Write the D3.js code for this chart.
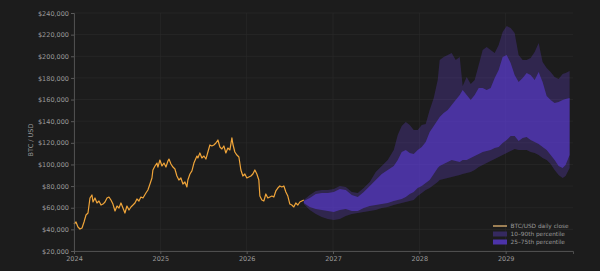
<!DOCTYPE html>
<html><head><meta charset="utf-8">
<script src="https://cdn.jsdelivr.net/npm/d3@7"></script>
<style>html,body{margin:0;padding:0;background:#1c1c1c;}svg{display:block;}</style>
</head><body>
<svg id="c" width="600" height="271"></svg>
<script>
// Historical BTC/USD daily close (decimal year, thousand USD)
const histYears = [2024.000,2024.023,2024.046,2024.069,2024.093,2024.116,2024.139,2024.162,2024.185,2024.208,2024.220,2024.243,2024.266,2024.289,2024.313,2024.336,2024.359,2024.382,2024.405,2024.428,2024.451,2024.475,2024.498,2024.521,2024.544,2024.567,2024.590,2024.613,2024.637,2024.660,2024.683,2024.706,2024.729,2024.752,2024.775,2024.799,2024.833,2024.856,2024.880,2024.903,2024.914,2024.938,2024.961,2024.972,2024.995,2025.019,2025.042,2025.065,2025.088,2025.100,2025.123,2025.146,2025.169,2025.192,2025.215,2025.238,2025.262,2025.285,2025.308,2025.319,2025.343,2025.366,2025.389,2025.424,2025.435,2025.458,2025.481,2025.505,2025.528,2025.551,2025.574,2025.597,2025.620,2025.644,2025.667,2025.690,2025.713,2025.736,2025.759,2025.782,2025.806,2025.829,2025.840,2025.863,2025.887,2025.910,2025.933,2025.956,2025.979,2026.002,2026.025,2026.049,2026.072,2026.095,2026.118,2026.141,2026.153,2026.176,2026.199,2026.222,2026.245,2026.269,2026.292,2026.315,2026.338,2026.361,2026.384,2026.407,2026.431,2026.454,2026.477,2026.500,2026.523,2026.546,2026.569,2026.593,2026.616,2026.639,2026.662];
const histClose = [45.0,46.8,42.2,40.3,41.3,46.8,53.3,55.1,69.0,71.8,65.3,69.0,64.4,66.2,62.5,63.4,65.3,69.0,69.9,67.1,63.4,57.0,61.6,59.7,64.4,59.7,55.1,61.6,57.9,60.7,62.5,64.4,68.1,66.2,69.9,69.0,73.6,76.4,81.9,87.5,94.9,98.6,101.3,97.6,104.1,98.6,101.3,97.6,103.2,105.0,100.4,97.6,95.8,89.3,85.6,87.5,81.9,83.8,79.2,85.6,91.2,94.0,101.3,107.8,106.0,110.6,106.0,107.8,105.0,111.5,118.0,117.1,118.0,119.8,122.6,116.1,114.3,117.1,110.6,115.2,113.4,124.5,118.9,111.5,108.7,106.9,94.9,89.3,91.2,87.5,88.4,89.3,91.2,94.9,91.2,85.6,70.8,67.1,66.2,72.7,69.0,69.9,70.8,69.9,75.5,78.2,80.1,79.2,80.1,74.5,70.8,63.4,62.5,60.7,64.4,62.5,65.3,66.2,67.1];

// Forecast percentiles (decimal year, thousand USD)
const fcYears = [2026.662,2026.731,2026.801,2026.870,2026.940,2027.009,2027.079,2027.148,2027.218,2027.287,2027.356,2027.426,2027.495,2027.565,2027.634,2027.704,2027.750,2027.796,2027.843,2027.889,2027.935,2027.981,2028.028,2028.074,2028.120,2028.167,2028.213,2028.236,2028.282,2028.329,2028.375,2028.421,2028.468,2028.502,2028.549,2028.595,2028.641,2028.688,2028.734,2028.780,2028.826,2028.873,2028.919,2028.965,2029.012,2029.058,2029.104,2029.150,2029.197,2029.243,2029.289,2029.336,2029.382,2029.428,2029.475,2029.521,2029.567,2029.613,2029.660,2029.694,2029.741];
const p90 = [67.1,71.8,75.5,76.4,76.4,77.3,80.1,79.2,74.5,73.6,78.2,83.8,93.0,98.6,104.1,113.4,127.2,135.6,139.2,136.5,131.9,131.9,136.5,137.4,150.3,161.4,178.1,196.6,199.3,201.2,203.0,196.6,199.3,172.5,180.8,174.4,178.1,191.9,205.8,208.6,205.8,203.0,210.4,222.4,228.0,226.1,221.5,201.2,196.6,196.6,198.4,204.0,212.3,194.7,189.2,185.5,180.8,179.0,183.6,184.5,186.4];
const p75 = [66.2,69.0,72.7,73.6,73.6,74.5,77.3,76.4,71.8,69.9,74.5,80.1,85.6,91.2,94.9,98.6,104.1,111.5,113.4,110.6,109.7,113.4,116.1,120.8,130.0,135.6,141.1,143.9,147.6,150.3,155.0,159.6,164.2,168.8,164.2,159.6,164.2,170.7,170.7,168.8,170.7,179.9,187.3,199.3,201.2,193.8,182.7,176.2,179.9,184.5,182.7,178.1,185.5,176.2,163.3,159.6,156.8,157.7,159.6,160.5,161.4];
const p25 = [64.4,60.7,58.8,57.9,57.0,56.1,57.9,58.8,57.0,57.0,59.7,61.6,62.5,63.4,64.4,66.2,67.1,68.1,69.9,72.7,74.5,78.2,80.1,82.9,85.6,91.2,96.7,98.6,100.4,102.3,104.1,103.2,102.3,104.1,104.1,106.0,107.8,109.7,111.5,112.4,113.4,115.2,116.1,119.8,122.6,126.3,126.3,121.7,124.5,125.4,122.6,120.8,118.9,116.1,113.4,108.7,104.1,98.6,96.7,99.5,108.7];
const p10 = [63.4,57.9,54.2,51.4,49.6,48.7,49.6,52.4,54.2,55.1,56.1,57.0,57.9,59.7,60.7,62.5,63.4,64.4,65.3,66.2,67.1,70.8,73.6,76.4,78.2,81.0,83.8,85.6,86.6,87.5,88.4,89.3,90.3,91.2,92.1,93.0,94.9,97.6,99.5,101.3,103.2,105.0,106.9,108.7,110.6,112.4,114.3,113.4,113.4,113.4,111.5,110.6,108.7,106.0,104.1,100.4,94.9,90.3,87.5,89.3,96.7];

const yTicks = [20,40,60,80,100,120,140,160,180,200,220,240];
const xTicks = [2024,2025,2026,2027,2028,2029];
const legendLabels = ["BTC/USD daily close","10\u201390th percentile","25\u201375th percentile"];

const svg = d3.select("#c");
const L = 74, R = 573, T = 13, B = 251;
const x = d3.scaleLinear().domain([2024, 2029.78]).range([L, R]);
const y = d3.scaleLinear().domain([20, 240]).range([B, T]);

const font = "DejaVu Sans, sans-serif";
const textCol = "#9a9a9a";

// grid
const g = svg.append("g");
g.selectAll("line.gy").data(yTicks).join("line")
  .attr("x1", L).attr("x2", R).attr("y1", d => y(d)).attr("y2", d => y(d))
  .attr("stroke", "#2a2a2a").attr("stroke-width", 0.7);
g.selectAll("line.gx").data(xTicks).join("line")
  .attr("x1", d => x(d)).attr("x2", d => x(d)).attr("y1", T).attr("y2", B)
  .attr("stroke", "#2a2a2a").attr("stroke-width", 0.7);

// bands
const fc = fcYears.map((t, i) => ({t, p90: p90[i], p75: p75[i], p25: p25[i], p10: p10[i]}));
const outer = d3.area().x(d => x(d.t)).y0(d => y(d.p10)).y1(d => y(d.p90));
const inner = d3.area().x(d => x(d.t)).y0(d => y(d.p25)).y1(d => y(d.p75));
svg.append("path").datum(fc).attr("d", outer).attr("fill", "#7048f0").attr("fill-opacity", 0.24);
svg.append("path").datum(fc).attr("d", inner).attr("fill", "#6440f2").attr("fill-opacity", 0.5);

// history line
const hist = histYears.map((t, i) => ({t, v: histClose[i]}));
svg.append("path").datum(hist)
  .attr("d", d3.line().x(d => x(d.t)).y(d => y(d.v)))
  .attr("fill", "none").attr("stroke", "#f0a53a").attr("stroke-width", 1.2).attr("stroke-linejoin", "round");

// axes
const fmt = d => "$" + d3.format(",")(d * 1000);
const yAxis = d3.axisLeft(y).tickValues(yTicks).tickFormat(fmt).tickSize(3).tickPadding(2);
const xAxis = d3.axisBottom(x).tickValues(xTicks).tickFormat(d3.format("d")).tickSize(3).tickPadding(2);
const ya = svg.append("g").attr("transform", `translate(${L},0)`).call(yAxis);
const xa = svg.append("g").attr("transform", `translate(0,${B})`).call(xAxis);
[ya, xa].forEach(a => {
  a.select(".domain").attr("stroke", "#5a5a5a").attr("stroke-width", 0.8);
  a.selectAll(".tick line").attr("stroke", "#5a5a5a");
  a.selectAll("text").attr("fill", textCol).attr("font-family", font).attr("font-size", 6.5);
});

svg.append("text").attr("transform", `translate(33,${(T + B) / 2 + 8}) rotate(-90)`)
  .attr("text-anchor", "middle").attr("fill", textCol).attr("font-family", font).attr("font-size", 6.5)
  .text("BTC / USD");

// legend
const lg = svg.append("g").attr("transform", "translate(493,226)");
lg.append("line").attr("x1", 0).attr("x2", 14).attr("y1", 0).attr("y2", 0).attr("stroke", "#f2c27a").attr("stroke-width", 1.2);
lg.append("rect").attr("x", 0).attr("y", 5.5).attr("width", 14).attr("height", 5).attr("fill", "#35295f");
lg.append("rect").attr("x", 0).attr("y", 13.5).attr("width", 14).attr("height", 5).attr("fill", "#4c33a8");
lg.selectAll("text").data(legendLabels).join("text")
  .attr("x", 17.5).attr("y", (d, i) => i * 8 + 2.2)
  .attr("fill", textCol).attr("font-family", font).attr("font-size", 5.8).text(d => d);
</script>
</body></html>
